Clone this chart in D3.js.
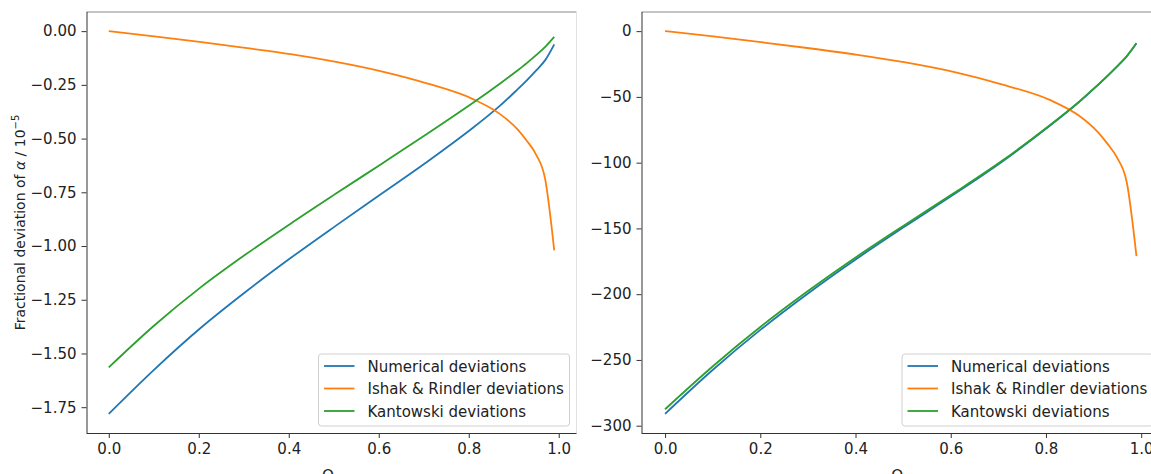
<!DOCTYPE html>
<html>
<head>
<meta charset="utf-8">
<script src="https://cdn.jsdelivr.net/npm/d3@7"></script>
<style>
  body { margin: 0; background: #fff; }
  svg { display: block; font-family: "DejaVu Sans", sans-serif; }
</style>
</head>
<body>
<svg id="chart" width="1151" height="474"></svg>
<script>
// [A] Data ----------------------------------------------------------------
const omega = [0, 0.101, 0.202, 0.303, 0.404, 0.505, 0.606, 0.707, 0.808, 0.869, 0.909, 0.929, 0.949, 0.970, 0.99];

// left panel (units of 1e-5)
const numericalL = [-1.781, -1.575, -1.385, -1.215, -1.056, -0.905, -0.757, -0.609, -0.452, -0.348, -0.270, -0.229, -0.185, -0.135, -0.062];
const ishakL     = [0, -0.024, -0.050, -0.078, -0.107, -0.143, -0.187, -0.243, -0.315, -0.385, -0.458, -0.51, -0.572, -0.69, -1.02];
const kantowskiL = [-1.565, -1.370, -1.196, -1.041, -0.896, -0.756, -0.618, -0.479, -0.336, -0.245, -0.182, -0.149, -0.113, -0.073, -0.027];

// right panel
const numericalR = [-291, -257.3, -226.6, -198.7, -172.7, -148.2, -124.3, -99.5, -72.0, -54.1, -41.0, -34.15, -27.0, -18.95, -9.25];
const ishakR     = [0, -4.0, -8.4, -13.0, -18.0, -23.8, -31.0, -40.5, -52.3, -64.2, -76.8, -85.5, -96, -115.5, -171];
const kantowskiR = [-287.5, -254.6, -224.4, -196.9, -171.2, -147.0, -123.3, -98.8, -71.5, -53.8, -40.8, -34.0, -26.9, -18.9, -9.2];

const seriesNames = ["Numerical deviations", "Ishak & Rindler deviations", "Kantowski deviations"];
const colors = ["#1f77b4", "#ff7f0e", "#2ca02c"];

const xTicks = [0, 0.2, 0.4, 0.6, 0.8, 1.0];
const yTicksL = [0, -0.25, -0.5, -0.75, -1.0, -1.25, -1.5, -1.75];
const yTicksR = [0, -50, -100, -150, -200, -250, -300];

// [B] Layout --------------------------------------------------------------
const svg = d3.select("#chart");
const plotTop = 12, plotBottom = 433;
const fontSize = 15;
const fmtMinus = s => s.replace("-", "\u2212");

function panel(opts) {
  const { x0, x1, series, yTicks, yFmt } = opts;
  const xMin = d3.min(omega), xMax = d3.max(omega);
  const xm = (xMax - xMin) * 0.05;
  const all = series.flat();
  const yMin = d3.min(all), yMax = d3.max(all);
  const ym = (yMax - yMin) * 0.05;

  const x = d3.scaleLinear().domain([xMin - xm, xMax + xm]).range([x0, x1]);
  const y = d3.scaleLinear().domain([yMin - ym, yMax + ym]).range([plotBottom, plotTop]);

  const g = svg.append("g");

  // lines (orange has a sharp end, keep it monotone)
  const line = (ys, curve) => d3.line()
    .x((d, i) => x(omega[i]))
    .y(d => y(d))
    .curve(curve)(ys);

  series.forEach((ys, k) => {
    g.append("path")
      .attr("d", line(ys, k === 1 ? d3.curveMonotoneX : d3.curveCatmullRom.alpha(0.5)))
      .attr("fill", "none")
      .attr("stroke", colors[k])
      .attr("stroke-width", 1.8);
  });

  // spines
  g.append("line").attr("x1", x0).attr("x2", x1).attr("y1", plotTop).attr("y2", plotTop)
    .attr("stroke", "#8a8a8a").attr("stroke-width", 1);
  g.append("line").attr("x1", x1).attr("x2", x1).attr("y1", plotTop).attr("y2", plotBottom)
    .attr("stroke", "#e2e2e2").attr("stroke-width", 1);

  // axes
  const xAxis = g.append("g")
    .attr("transform", `translate(0,${plotBottom})`)
    .call(d3.axisBottom(x).tickValues(xTicks).tickFormat(d3.format(".1f"))
      .tickSize(5).tickPadding(5).tickSizeOuter(0));
  const yAxis = g.append("g")
    .attr("transform", `translate(${x0},0)`)
    .call(d3.axisLeft(y).tickValues(yTicks).tickFormat(d => fmtMinus(yFmt(d)))
      .tickSize(5).tickPadding(5).tickSizeOuter(0));

  [xAxis, yAxis].forEach(a => {
    a.select(".domain").remove();
    a.selectAll(".tick line").attr("stroke", "#333");
    a.selectAll(".tick text").attr("font-size", fontSize).attr("fill", "#222")
      .attr("font-family", "DejaVu Sans");
  });
  g.append("line").attr("x1", x0).attr("x2", x1).attr("y1", plotBottom + 0.5).attr("y2", plotBottom + 0.5)
    .attr("stroke", "#333");
  g.append("line").attr("x1", x0 + 0.5).attr("x2", x0 + 0.5).attr("y1", plotTop).attr("y2", plotBottom)
    .attr("stroke", "#333");

  // x label (mostly below the picture edge, as in the original)
  const xl = g.append("text")
    .attr("x", (x0 + x1) / 2).attr("y", 481)
    .attr("text-anchor", "middle").attr("font-size", fontSize).attr("fill", "#222");
  xl.append("tspan").text("\u03a9");
  xl.append("tspan").attr("font-size", 10).attr("dy", 3).text("\u039b");

  // legend
  const lw = 251, lh = 72;
  const lx = x1 - 7 - lw, ly = plotBottom - 7 - lh;
  const leg = g.append("g").attr("transform", `translate(${lx},${ly})`);
  leg.append("rect").attr("width", lw).attr("height", lh).attr("rx", 3)
    .attr("fill", "#fff").attr("fill-opacity", 0.8)
    .attr("stroke", "#d0d0d0").attr("stroke-width", 1);
  seriesNames.forEach((name, k) => {
    const cy = 12 + k * 22.5;
    leg.append("line").attr("x1", 5.5).attr("x2", 36).attr("y1", cy).attr("y2", cy)
      .attr("stroke", colors[k]).attr("stroke-width", 1.8);
    leg.append("text").attr("x", 49).attr("y", cy + 5.5).attr("font-size", fontSize)
      .attr("fill", "#222").text(name);
  });

  return g;
}

// [C] Panels --------------------------------------------------------------
panel({ x0: 86.5, x1: 576.5, series: [numericalL, ishakL, kantowskiL],
        yTicks: yTicksL, yFmt: d3.format(".2f") });
panel({ x0: 641.5, x1: 1160, series: [numericalR, ishakR, kantowskiR],
        yTicks: yTicksR, yFmt: d3.format("d") });

// y label (left panel only)
const yl = svg.append("text")
  .attr("transform", "translate(25,222.5) rotate(-90)")
  .attr("text-anchor", "middle").attr("font-size", 14).attr("fill", "#222");
yl.append("tspan").text("Fractional deviation of ");
yl.append("tspan").attr("font-style", "italic").text("\u03b1");
yl.append("tspan").text(" / 10");
yl.append("tspan").attr("font-size", 10).attr("dy", -6).text("\u22125");
</script>
</body>
</html>
